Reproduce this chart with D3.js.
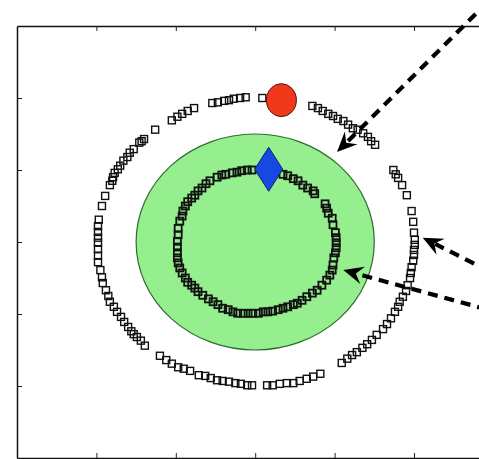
<!DOCTYPE html>
<html>
<head>
<meta charset="utf-8">
<script src="https://cdn.jsdelivr.net/npm/d3@7"></script>
<style>
  body { margin: 0; background: #fff; }
  svg { display: block; }
</style>
</head>
<body>
<div id="chart"></div>
<script>
var svgWidth = 479;
var svgHeight = 459;

var margin = { top: 26, left: 17 };

// plot area is wider than the picture, right edge is cut off
var width = 476.4;
var height = 432;

var xDomain = [0, 6];
var yDomain = [0, 6];
var xTicks = [1, 2, 3, 4, 5];
var yTicks = [1, 2, 3, 4, 5];

// green disc: centre and radius
var discCenter = [3, 3];
var discRadius = 1.5;

// red circle and blue diamond
var redPoint = [3.33, 4.97];
var bluePoint = [3.17, 4.01];

// outer ring of squares
var outerRing = [
  [3.09, 5.00], [2.88, 5.01], [2.81, 5.00], [2.73, 4.99], [2.67, 4.97], [2.61, 4.96],
  [2.53, 4.94], [2.46, 4.93], [2.23, 4.86], [2.15, 4.82], [2.08, 4.78], [2.02, 4.74],
  [1.95, 4.69], [1.74, 4.56], [1.60, 4.43], [1.57, 4.40], [1.54, 4.38], [1.47, 4.29],
  [1.42, 4.24], [1.39, 4.18], [1.34, 4.13], [1.30, 4.06], [1.27, 4.01], [1.23, 3.96],
  [1.21, 3.90], [1.20, 3.85], [1.17, 3.79], [1.11, 3.64], [1.07, 3.50], [1.03, 3.31],
  [1.02, 3.22], [1.02, 3.14], [1.02, 3.06], [1.02, 2.99], [1.02, 2.90], [1.02, 2.81],
  [1.02, 2.72], [1.05, 2.61], [1.07, 2.51], [1.08, 2.43], [1.12, 2.33], [1.15, 2.25],
  [1.17, 2.17], [1.22, 2.10], [1.26, 2.03], [1.31, 1.96], [1.35, 1.89], [1.40, 1.82],
  [1.44, 1.76], [1.47, 1.72], [1.51, 1.68], [1.56, 1.63], [1.61, 1.56], [1.80, 1.42],
  [1.88, 1.36], [1.95, 1.31], [2.03, 1.26], [2.10, 1.24], [2.18, 1.21], [2.29, 1.15],
  [2.37, 1.14], [2.44, 1.11], [2.52, 1.08], [2.59, 1.07], [2.67, 1.06], [2.75, 1.04],
  [2.82, 1.03], [2.90, 1.01], [2.96, 1.01], [3.15, 1.01], [3.22, 1.01], [3.31, 1.03],
  [3.40, 1.04], [3.48, 1.04], [3.56, 1.07], [3.65, 1.10], [3.73, 1.13], [3.82, 1.17],
  [4.09, 1.32], [4.16, 1.38], [4.22, 1.43], [4.28, 1.47], [4.35, 1.53], [4.41, 1.58],
  [4.47, 1.64], [4.53, 1.71], [4.61, 1.79], [4.66, 1.86], [4.71, 1.94], [4.76, 2.03],
  [4.80, 2.10], [4.82, 2.17], [4.86, 2.24], [4.90, 2.32], [4.92, 2.40], [4.95, 2.50],
  [4.96, 2.57], [4.97, 2.65], [4.99, 2.74], [5.00, 2.82], [5.00, 2.89], [5.01, 2.96],
  [5.01, 3.03], [5.00, 3.13], [4.99, 3.28], [4.97, 3.43], [4.91, 3.65], [4.85, 3.79],
  [4.80, 3.89], [4.77, 3.94], [4.74, 4.00], [4.51, 4.35], [4.46, 4.40], [4.42, 4.46],
  [4.36, 4.51], [4.29, 4.56], [4.23, 4.58], [4.17, 4.63], [4.11, 4.68], [4.04, 4.71],
  [3.98, 4.75], [3.92, 4.78], [3.85, 4.82], [3.79, 4.86], [3.72, 4.89]
];

// inner ring of squares
var innerRing = [
  [2.96, 4.00], [2.90, 4.00], [2.83, 3.99], [2.77, 3.97], [2.71, 3.96], [2.63, 3.94],
  [2.58, 3.93], [2.52, 3.90], [2.43, 3.85], [2.38, 3.81], [2.33, 3.75], [2.28, 3.71],
  [2.24, 3.65], [2.20, 3.61], [2.15, 3.56], [2.12, 3.50], [2.09, 3.43], [2.08, 3.36],
  [2.05, 3.29], [2.03, 3.19], [2.03, 3.10], [2.02, 3.01], [2.02, 2.93], [2.02, 2.85],
  [2.02, 2.78], [2.03, 2.71], [2.05, 2.64], [2.08, 2.57], [2.12, 2.50], [2.15, 2.44],
  [2.20, 2.40], [2.24, 2.36], [2.28, 2.31], [2.34, 2.26], [2.41, 2.21], [2.47, 2.17],
  [2.53, 2.13], [2.59, 2.08], [2.66, 2.06], [2.72, 2.03], [2.78, 2.01], [2.85, 2.01],
  [2.91, 2.01], [2.97, 2.01], [3.04, 2.01], [3.10, 2.03], [3.16, 2.03], [3.22, 2.04],
  [3.29, 2.06], [3.35, 2.08], [3.41, 2.10], [3.48, 2.13], [3.53, 2.15], [3.59, 2.19],
  [3.65, 2.24], [3.72, 2.29], [3.78, 2.33], [3.84, 2.40], [3.90, 2.47], [3.94, 2.54],
  [3.97, 2.61], [3.98, 2.68], [3.99, 2.78], [4.01, 2.85], [4.02, 2.92], [4.02, 2.99],
  [4.02, 3.06], [4.01, 3.13], [3.98, 3.24], [3.97, 3.33], [3.92, 3.40], [3.90, 3.47],
  [3.88, 3.53], [3.75, 3.67], [3.73, 3.71], [3.66, 3.75], [3.60, 3.79], [3.54, 3.85],
  [3.48, 3.88], [3.41, 3.92], [3.35, 3.94]
];

// dashed arrows: [start, tip]
var arrows = [
  [[6.08, 6.50], [4.03, 4.25]],
  [[6.33, 2.38], [5.11, 3.06]],
  [[6.33, 1.94], [4.11, 2.61]]
];

var svg = d3.select("#chart")
  .append("svg")
  .attr("width", svgWidth)
  .attr("height", svgHeight);

var chartGroup = svg.append("g")
  .attr("transform", `translate(${margin.left}, ${margin.top})`);

var xScale = d3.scaleLinear().domain(xDomain).range([0, width]);
var yScale = d3.scaleLinear().domain(yDomain).range([height, 0]);

// axes, ticks pointing inward, no labels
chartGroup.append("g")
  .attr("transform", `translate(0, ${height})`)
  .call(d3.axisBottom(xScale).tickValues(xTicks).tickSize(-5).tickSizeOuter(0).tickFormat(""));
chartGroup.append("g")
  .call(d3.axisTop(xScale).tickValues(xTicks).tickSize(-5).tickSizeOuter(0).tickFormat(""));
chartGroup.append("g")
  .call(d3.axisLeft(yScale).tickValues(yTicks).tickSize(-5).tickSizeOuter(0).tickFormat(""));
chartGroup.selectAll(".domain").attr("stroke", "#111").attr("stroke-width", 1.5);
chartGroup.selectAll(".tick line").attr("stroke", "#222").attr("stroke-width", 1);

// green disc
chartGroup.append("ellipse")
  .attr("cx", xScale(discCenter[0]))
  .attr("cy", yScale(discCenter[1]))
  .attr("rx", xScale(discRadius) - xScale(0))
  .attr("ry", yScale(0) - yScale(discRadius))
  .attr("fill", "#95ef8e")
  .attr("stroke", "#2f6b2f")
  .attr("stroke-width", 1.2);

// square markers
function drawSquares(data, sw) {
  chartGroup.append("g").selectAll("rect")
    .data(data)
    .enter()
    .append("rect")
    .attr("x", d => xScale(d[0]) - 3.5)
    .attr("y", d => yScale(d[1]) - 3.5)
    .attr("width", 7)
    .attr("height", 7)
    .attr("fill", "none")
    .attr("stroke", "#111")
    .attr("stroke-width", sw);
}
drawSquares(innerRing, 1.8);
drawSquares(outerRing, 1.4);

// blue diamond
var bx = xScale(bluePoint[0]), by = yScale(bluePoint[1]);
chartGroup.append("path")
  .attr("d", `M${bx},${by - 22} L${bx + 14},${by} L${bx},${by + 22} L${bx - 14},${by} Z`)
  .attr("fill", "#1848e2")
  .attr("stroke", "#0a1f70")
  .attr("stroke-width", 1);

// red circle
chartGroup.append("ellipse")
  .attr("cx", xScale(redPoint[0]))
  .attr("cy", yScale(redPoint[1]))
  .attr("rx", 15)
  .attr("ry", 16.5)
  .attr("fill", "#f0381c")
  .attr("stroke", "#5a1208")
  .attr("stroke-width", 1);

// dashed arrows with filled heads
arrows.forEach(function(a) {
  var x0 = xScale(a[0][0]), y0 = yScale(a[0][1]);
  var x1 = xScale(a[1][0]), y1 = yScale(a[1][1]);
  var ang = Math.atan2(y1 - y0, x1 - x0);
  var len = Math.hypot(x1 - x0, y1 - y0);
  var g = chartGroup.append("g")
    .attr("transform", `translate(${x1}, ${y1}) rotate(${ang * 180 / Math.PI})`);
  g.append("line")
    .attr("x1", -len).attr("y1", 0)
    .attr("x2", -14).attr("y2", 0)
    .attr("stroke", "#000")
    .attr("stroke-width", 4.2)
    .attr("stroke-dasharray", "10,7");
  g.append("path")
    .attr("d", "M0,0 L-20,-9 L-13,0 L-20,9 Z")
    .attr("fill", "#000");
});
</script>
</body>
</html>
